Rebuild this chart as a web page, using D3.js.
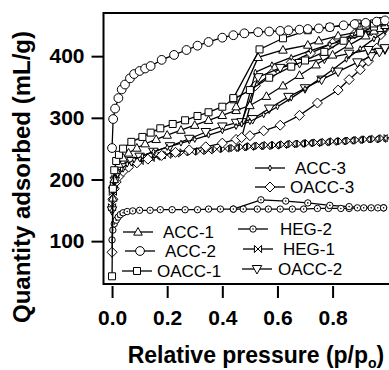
<!DOCTYPE html>
<html><head><meta charset="utf-8">
<script src="https://cdn.jsdelivr.net/npm/d3@7"></script>
<style>html,body{margin:0;padding:0;background:#fff;}svg{display:block;}</style>
</head><body>
<svg id="c" width="389" height="370"></svg>
<script>
// ---------- data ----------
const xTicks = [0.0, 0.2, 0.4, 0.6, 0.8];
const yTicks = [100, 200, 300, 400];

const acc2P = [0, 0.004, 0.011, 0.023, 0.035, 0.047, 0.065, 0.08, 0.1, 0.12, 0.14, 0.18, 0.225, 0.27, 0.31, 0.35, 0.4, 0.44, 0.48, 0.53, 0.57, 0.61, 0.64, 0.68, 0.71, 0.75, 0.79, 0.84, 0.88, 0.92, 0.96, 0.99];
const acc2V = [251, 298, 315, 332, 346, 354, 364, 371, 376, 380, 384, 394, 402, 410, 417, 423, 430, 434, 437, 439, 440, 441, 442, 443, 444, 445, 447, 450, 452, 454, 456, 458];

const oacc1AdsP = [0, 0.003, 0.008, 0.015, 0.025, 0.04, 0.07, 0.11, 0.14, 0.175, 0.22, 0.265, 0.31, 0.35, 0.4, 0.44, 0.5, 0.57, 0.65, 0.7, 0.77, 0.84, 0.9, 0.95, 0.98];
const oacc1AdsV = [43, 185, 215, 230, 240, 250, 261, 269, 276, 283, 290, 296, 303, 309, 318, 330, 345, 365, 383, 393, 407, 425, 438, 448, 455];
const oacc1DesP = [0.98, 0.95, 0.92, 0.89, 0.79, 0.71, 0.62, 0.535, 0.44];
const oacc1DesV = [457, 453, 450, 453, 447, 442, 429, 411, 332];

const acc1AdsP = [0.003, 0.008, 0.015, 0.025, 0.04, 0.06, 0.09, 0.12, 0.16, 0.2, 0.25, 0.3, 0.35, 0.4, 0.45, 0.5, 0.56, 0.62, 0.68, 0.74, 0.8, 0.86, 0.92, 0.97];
const acc1AdsV = [170, 200, 215, 225, 235, 243, 251, 258, 265, 272, 280, 288, 296, 304, 312, 320, 335, 352, 369, 386, 402, 418, 433, 445];
const acc1DesP = [0.99, 0.95, 0.89, 0.82, 0.75, 0.71, 0.62, 0.53, 0.45];
const acc1DesV = [450, 441, 439, 433, 425, 418, 410, 398, 318];

const acc3AdsP = [0, 0.004, 0.01, 0.02, 0.035, 0.055, 0.08, 0.11, 0.15, 0.2, 0.25, 0.3, 0.35, 0.4, 0.45, 0.5, 0.55, 0.6, 0.65, 0.7, 0.75, 0.8, 0.85, 0.9, 0.95, 0.99];
const acc3AdsV = [150, 180, 197, 208, 217, 225, 232, 238, 245, 252, 259, 265, 272, 279, 286, 294, 305, 318, 332, 347, 362, 378, 395, 412, 428, 440];
const acc3DesP = [0.99, 0.93, 0.86, 0.79, 0.72, 0.65, 0.58, 0.52, 0.47];
const acc3DesV = [443, 436, 428, 419, 409, 398, 386, 374, 290];

const oacc2AdsP = [0, 0.004, 0.01, 0.02, 0.04, 0.07, 0.1, 0.15, 0.21, 0.28, 0.34, 0.4, 0.45, 0.51, 0.57, 0.64, 0.7, 0.76, 0.82, 0.89, 0.94, 0.97, 0.99];
const oacc2AdsV = [150, 182, 198, 210, 220, 230, 237, 245, 254, 266, 277, 286, 292, 298, 315, 334, 348, 362, 375, 390, 400, 407, 411];
const oacc2DesP = [0.99, 0.93, 0.86, 0.77, 0.68, 0.61, 0.53, 0.47];
const oacc2DesV = [413, 410, 404, 396, 389, 381, 366, 293];

const oacc3AdsP = [0, 0.003, 0.008, 0.015, 0.025, 0.04, 0.06, 0.09, 0.13, 0.18, 0.23, 0.28, 0.34, 0.4, 0.45, 0.5, 0.55, 0.61, 0.68, 0.745, 0.82, 0.86, 0.9, 0.93, 0.96, 0.975, 0.99];
const oacc3AdsV = [82, 168, 185, 196, 205, 213, 220, 227, 233, 239, 244, 248, 253, 259, 265, 271, 279, 288, 304, 324, 345, 362, 378, 392, 413, 435, 445];
const oacc3DesP = [0.99, 0.94, 0.88, 0.8, 0.72, 0.65, 0.58, 0.52, 0.47];
const oacc3DesV = [447, 441, 436, 421, 405, 390, 372, 352, 268];

const heg1AdsP = [0, 0.003, 0.007, 0.012, 0.02, 0.03, 0.045, 0.06, 0.08, 0.1, 0.12, 0.14, 0.16, 0.18, 0.2, 0.23, 0.26, 0.29, 0.32, 0.35, 0.38, 0.41, 0.44, 0.47, 0.5, 0.53, 0.56, 0.59, 0.62, 0.65, 0.68, 0.71, 0.74, 0.77, 0.8, 0.83, 0.86, 0.89, 0.92, 0.95, 0.98, 1.0];
const heg1AdsV = [155, 180, 192, 201, 208, 214, 219, 223, 227, 230, 233, 235, 237, 239, 240, 242, 244, 245, 246, 247, 249, 250, 251, 252, 253, 254, 254, 255, 256, 257, 258, 259, 259, 260, 261, 262, 263, 264, 265, 265, 266, 267];
const heg1DesP = [0.985, 0.955, 0.925, 0.895, 0.865, 0.835, 0.805, 0.775, 0.745, 0.715, 0.685, 0.655, 0.625, 0.595, 0.565, 0.535, 0.505, 0.475, 0.445];
const heg1DesV = [267, 266, 265, 264, 263, 262, 262, 261, 260, 259, 258, 258, 257, 256, 256, 255, 254, 253, 251];

const heg2AdsP = [0, 0.003, 0.008, 0.015, 0.022, 0.03, 0.04, 0.055, 0.075, 0.1, 0.138, 0.175, 0.218, 0.265, 0.31, 0.35, 0.393, 0.44, 0.476, 0.527, 0.567, 0.61, 0.654, 0.695, 0.745, 0.785, 0.83, 0.86, 0.89, 0.913, 0.94, 0.964, 0.985];
const heg2AdsV = [102, 118, 128, 134, 139, 143, 146, 148, 149, 150, 150, 151, 151, 151, 151, 152, 152, 152, 152, 152, 152, 152, 152, 152, 153, 153, 153, 153, 154, 154, 154, 154, 154];
const heg2DesP = [0.985, 0.86, 0.79, 0.71, 0.63, 0.54, 0.44];
const heg2DesV = [154, 156, 158, 162, 165, 167, 152];

// ---------- layout ----------
const svg = d3.select("#c");
const FONT = "Liberation Sans, Arial, Helvetica, sans-serif";
const L = 103.5, T = 13, B = 284, R = 396;
const x = d3.scaleLinear().domain([-0.031, 1.03]).range([L, R]);
const y = d3.scaleLinear().domain([30.5, 470]).range([B, T]);

// marker shapes
const shapes = {
  triUp: r => `M0,${-r}L${r*0.95},${r*0.7}L${-r*0.95},${r*0.7}Z`,
  triDown: r => `M0,${r}L${r*0.95},${-r*0.7}L${-r*0.95},${-r*0.7}Z`,
  square: r => `M${-r},${-r}H${r}V${r}H${-r}Z`,
  diamond: r => `M0,${-r}L${r},0L0,${r}L${-r},0Z`,
  bowtie: r => `M${-r},${-r}L${r},${r}L${r},${-r}L${-r},${r}Z`,
  tiny: r => `M0,${-r}L${r*0.5},0L0,${r}L${-r*0.5},0Z`
};

function zip(P, V) { return P.map((p, i) => [p, V[i]]); }

const series = [
  {name: "HEG-2", branches: [zip(heg2AdsP, heg2AdsV), zip(heg2DesP, heg2DesV)], m: "dotcircle", r: 3.2},
  {name: "HEG-1", branches: [zip(heg1AdsP, heg1AdsV), zip(heg1DesP, heg1DesV)], m: "bowtie", r: 3.6},
  {name: "OACC-3", branches: [zip(oacc3AdsP, oacc3AdsV), zip(oacc3DesP, oacc3DesV)], m: "diamond", r: 5},
  {name: "OACC-2", branches: [zip(oacc2AdsP, oacc2AdsV), zip(oacc2DesP, oacc2DesV)], m: "triDown", r: 5},
  {name: "ACC-3", branches: [zip(acc3AdsP, acc3AdsV), zip(acc3DesP, acc3DesV)], m: "tiny", r: 3},
  {name: "ACC-1", branches: [zip(acc1AdsP, acc1AdsV), zip(acc1DesP, acc1DesV)], m: "triUp", r: 4.5},
  {name: "OACC-1", branches: [zip(oacc1AdsP, oacc1AdsV), zip(oacc1DesP, oacc1DesV)], m: "square", r: 3.5},
  {name: "ACC-2", branches: [zip(acc2P, acc2V)], m: "circle", r: 4.4}
];

function drawMarker(g, m, r, cx, cy) {
  if (m === "circle") {
    g.append("circle").attr("cx", cx).attr("cy", cy).attr("r", r)
      .attr("fill", "#fff").attr("stroke", "#000").attr("stroke-width", 1);
  } else if (m === "dotcircle") {
    g.append("circle").attr("cx", cx).attr("cy", cy).attr("r", r)
      .attr("fill", "#fff").attr("stroke", "#000").attr("stroke-width", 1);
    g.append("circle").attr("cx", cx).attr("cy", cy).attr("r", 0.8).attr("fill", "#000");
  } else {
    g.append("path").attr("d", shapes[m](r)).attr("transform", `translate(${cx},${cy})`)
      .attr("fill", "#fff").attr("stroke", "#000").attr("stroke-width", 1)
      .attr("stroke-linejoin", "miter");
  }
}

svg.append("defs").append("clipPath").attr("id", "pc")
  .append("rect").attr("x", L).attr("y", T).attr("width", R - L).attr("height", B - T);

const plot = svg.append("g").attr("clip-path", "url(#pc)");
const line = d3.line().x(d => x(d[0])).y(d => y(d[1]));

series.forEach(s => {
  const g = plot.append("g");
  s.branches.forEach(b => {
    g.append("path").attr("d", line(b)).attr("fill", "none")
      .attr("stroke", "#000").attr("stroke-width", 1.3);
  });
  s.branches.forEach(b => b.forEach(d => drawMarker(g, s.m, s.r, x(d[0]), y(d[1]))));
});

// frame
svg.append("rect").attr("x", L).attr("y", T).attr("width", R - L).attr("height", B - T)
  .attr("fill", "none").attr("stroke", "#000").attr("stroke-width", 2);

// axes
const yAxis = d3.axisLeft(y).tickValues(yTicks).tickSize(12).tickPadding(7).tickFormat(d3.format("d"));
const gy = svg.append("g").attr("transform", `translate(${L},0)`).call(yAxis);
gy.select(".domain").remove();
gy.selectAll(".tick line").attr("stroke-width", 2);
gy.selectAll("text").attr("font-family", FONT).attr("font-weight", "bold").attr("font-size", 21);

const xAxis = d3.axisBottom(x).tickValues(xTicks).tickSize(12).tickPadding(12).tickFormat(d3.format(".1f"));
const gx = svg.append("g").attr("transform", `translate(0,${B + 2})`).call(xAxis);
gx.select(".domain").remove();
gx.selectAll(".tick line").attr("stroke-width", 2);
gx.selectAll("text").attr("font-family", FONT).attr("font-weight", "bold").attr("font-size", 21);

// axis titles
svg.append("text").attr("transform", "translate(30,177) rotate(-90)")
  .attr("text-anchor", "middle").attr("font-family", FONT)
  .attr("font-weight", "bold").attr("font-size", 24).text("Quantity adsorbed (mL/g)");

const xt = svg.append("text").attr("x", 256).attr("y", 363).attr("text-anchor", "middle")
  .attr("font-family", FONT).attr("font-weight", "bold").attr("font-size", 23);
xt.append("tspan").text("Relative pressure (p/p");
xt.append("tspan").attr("font-size", 14).attr("dy", 5).text("o");
xt.append("tspan").attr("dy", -5).text(")");

// legend
const legendItems = [
  {name: "ACC-3", m: "tiny", r: 3, x1: 255, x2: 285, y: 168, tx: 295},
  {name: "OACC-3", m: "diamond", r: 5, x1: 255, x2: 285, y: 187, tx: 290},
  {name: "ACC-1", m: "triUp", r: 4.5, x1: 123, x2: 153, y: 232, tx: 163},
  {name: "ACC-2", m: "circle", r: 4.4, x1: 125, x2: 155, y: 251, tx: 165},
  {name: "OACC-1", m: "square", r: 3.5, x1: 122, x2: 152, y: 271, tx: 157},
  {name: "HEG-2", m: "dotcircle", r: 3.2, x1: 238, x2: 268, y: 229, tx: 280},
  {name: "HEG-1", m: "bowtie", r: 3.6, x1: 243, x2: 273, y: 249, tx: 283},
  {name: "OACC-2", m: "triDown", r: 5, x1: 242, x2: 272, y: 269, tx: 278}
];
const lg = svg.append("g");
legendItems.forEach(it => {
  lg.append("line").attr("x1", it.x1).attr("x2", it.x2).attr("y1", it.y).attr("y2", it.y)
    .attr("stroke", "#000").attr("stroke-width", 1.3);
  drawMarker(lg, it.m, it.r, (it.x1 + it.x2) / 2, it.y);
  lg.append("text").attr("x", it.tx).attr("y", it.y + 6)
    .attr("font-family", FONT).attr("font-size", 17).text(it.name);
});
</script>
</body></html>
